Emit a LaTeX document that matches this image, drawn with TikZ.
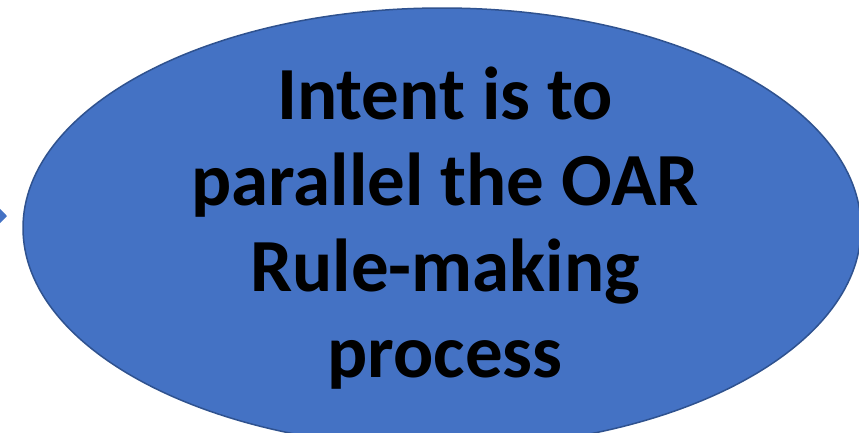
\documentclass[tikz,border=0pt]{standalone}
\usepackage{fontspec}
\setmainfont{Carlito}
\usetikzlibrary{shapes.geometric,arrows.meta}
\definecolor{ovalfill}{HTML}{4472C4}
\definecolor{ovaledge}{HTML}{2F528F}
\tikzset{
  oval/.style={ellipse, fill=ovalfill, draw=ovaledge, line width=1.5pt, inner sep=0pt},
  bigtext/.style={align=center, font=\fontsize{75}{86}\selectfont\bfseries, text=black},
  tipline/.style={draw=ovalfill, line width=2pt, -{Triangle[length=11pt,width=22pt]}}
}
\begin{document}
\begin{tikzpicture}[x=1pt,y=-1pt]
\useasboundingbox (0,0) rectangle (859,432);
\node[oval, minimum width=838pt, minimum height=440pt] (oval) at (442,228) {};
\node[bigtext] (label) at (445,228) {Intent is to\\parallel the OAR\\Rule-making\\process};
\coordinate (tailstart) at (-30,216);
\coordinate (tailend) at (7,216);
\draw[tipline] (tailstart) -- (tailend);
\end{tikzpicture}
\end{document}
